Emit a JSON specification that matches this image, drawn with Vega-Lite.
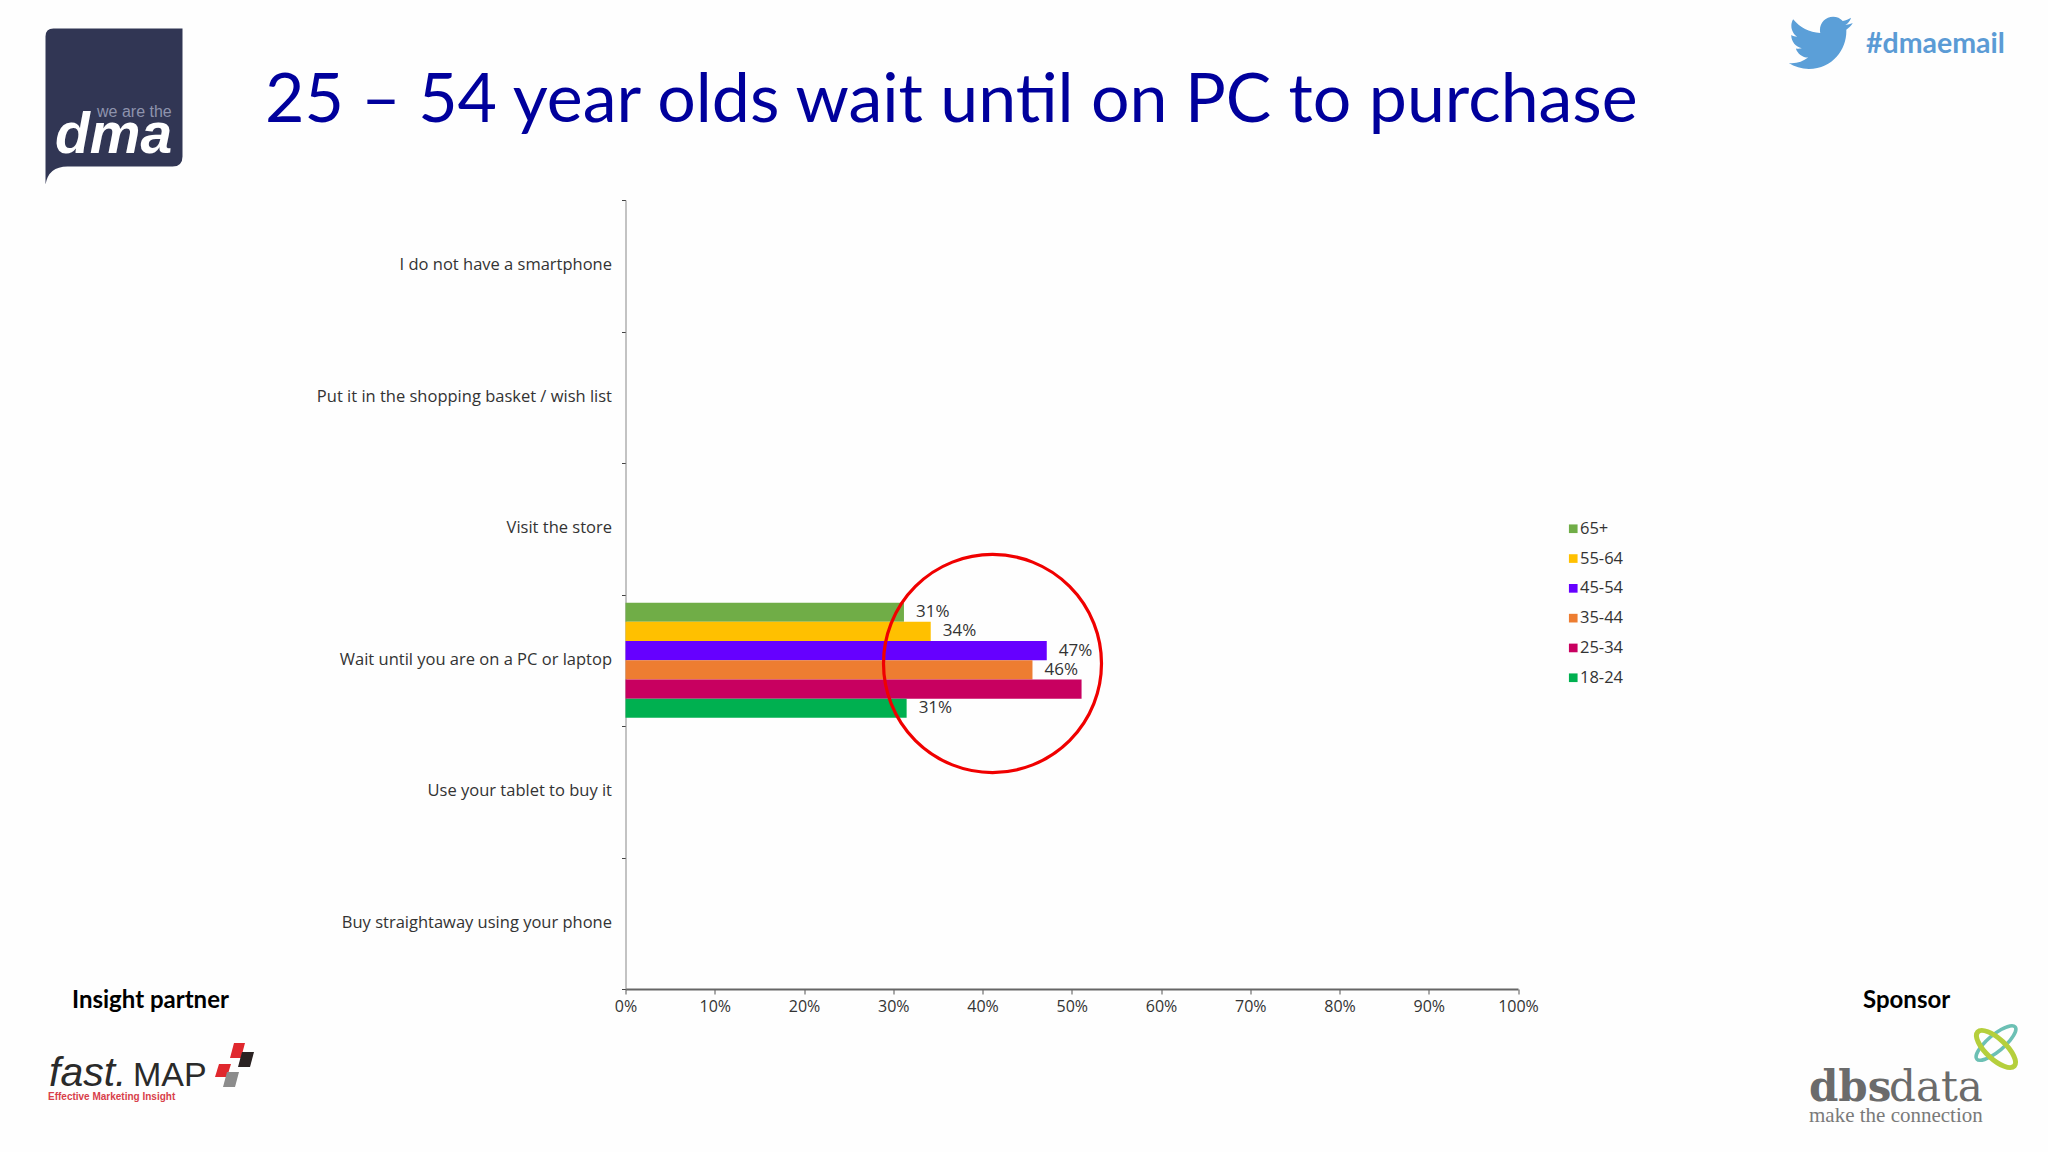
{"$schema":"https://vega.github.io/schema/vega-lite/v6.json","width":892.5,"height":789,"autosize":{"type":"none"},"padding":{"left":625.5,"top":200,"right":530,"bottom":163},"background":"#fefefe","config":{"view":{"stroke":null}},"resolve":{"scale":{"x":"independent","y":"independent"},"axis":{"x":"independent","y":"independent"}},"layer":[{"data":{"values":[{"option":"Wait until you are on a PC or laptop","age":"65+","value":31.2,"label":"31%"},{"option":"Wait until you are on a PC or laptop","age":"55-64","value":34.2,"label":"34%"},{"option":"Wait until you are on a PC or laptop","age":"45-54","value":47.2,"label":"47%"},{"option":"Wait until you are on a PC or laptop","age":"35-44","value":45.6,"label":"46%"},{"option":"Wait until you are on a PC or laptop","age":"25-34","value":51.1,"label":""},{"option":"Wait until you are on a PC or laptop","age":"18-24","value":31.5,"label":"31%"}]},"encoding":{"x":{"field":"value","type":"quantitative","title":null,"scale":{"domain":[0,100],"nice":false},"axis":{"values":[0,10,20,30,40,50,60,70,80,90,100],"labelExpr":"datum.value + '%'","labelFlush":false,"labelOverlap":false,"grid":false,"domainColor":"#666666","domainWidth":2,"tickColor":"#555555","tickSize":5,"labelFont":"Open Sans","labelFontSize":16,"labelColor":"#333333","labelPadding":4}},"y":{"field":"option","type":"nominal","title":null,"sort":null,"scale":{"domain":["I do not have a smartphone","Put it in the shopping basket / wish list","Visit the store","Wait until you are on a PC or laptop","Use your tablet to buy it","Buy straightaway using your phone"],"paddingInner":0,"paddingOuter":0},"axis":{"tickBand":"extent","domainColor":"#888888","tickColor":"#444444","tickSize":4,"labelFont":"Open Sans","labelFontSize":16.5,"labelColor":"#333333","labelPadding":10,"labelLimit":400,"labelOffset":-1,"grid":false}},"yOffset":{"field":"age","type":"nominal","sort":["65+","55-64","45-54","35-44","25-34","18-24"],"scale":{"paddingInner":0,"paddingOuter":0.425}}},"layer":[{"mark":{"type":"bar"},"encoding":{"color":{"field":"age","type":"nominal","title":null,"scale":{"domain":["65+","55-64","45-54","35-44","25-34","18-24"],"range":["#70ad47","#ffc000","#6600ff","#ed7d31","#c80060","#00b050"]},"legend":{"orient":"none","legendX":939.5,"legendY":320.5,"symbolType":"square","symbolSize":75,"symbolStrokeWidth":0,"labelFont":"Open Sans","labelFontSize":16.5,"labelColor":"#333333","labelOffset":-1.5,"rowPadding":12.8,"symbolOpacity":1}}}},{"mark":{"type":"text","align":"left","baseline":"middle","dx":12,"font":"Open Sans","fontSize":17,"fill":"#333333"},"encoding":{"text":{"field":"label"}}}]},{"layer":[{"data":{"values":[{"label":"ring"}]},"mark":{"type":"point","shape":"circle","size":47524,"filled":false,"stroke":"#f00000","strokeWidth":3.2,"opacity":1},"encoding":{"x":{"datum":992.5,"type":"quantitative","scale":{"domain":[0,2048],"range":[-625.5,1422.5],"nice":false,"zero":false},"axis":null},"y":{"datum":663.5,"type":"quantitative","scale":{"domain":[0,1152],"range":[-200,952],"nice":false,"zero":false},"axis":null}}},{"data":{"values":[{"label":"25 – 54 year olds wait until on PC to purchase"}]},"mark":{"type":"text","align":"left","baseline":"alphabetic","font":"Lato","fontSize":68,"fill":"#00009c"},"encoding":{"x":{"datum":265,"type":"quantitative","scale":{"domain":[0,2048],"range":[-625.5,1422.5],"nice":false,"zero":false},"axis":null},"y":{"datum":122,"type":"quantitative","scale":{"domain":[0,1152],"range":[-200,952],"nice":false,"zero":false},"axis":null},"text":{"field":"label"}}},{"data":{"values":[{"label":"#dmaemail"}]},"mark":{"type":"text","align":"left","baseline":"alphabetic","font":"Lato","fontWeight":"bold","fontSize":28.5,"fill":"#5b9bd5"},"encoding":{"x":{"datum":1866,"type":"quantitative","scale":{"domain":[0,2048],"range":[-625.5,1422.5],"nice":false,"zero":false},"axis":null},"y":{"datum":53,"type":"quantitative","scale":{"domain":[0,1152],"range":[-200,952],"nice":false,"zero":false},"axis":null},"text":{"field":"label"}}},{"data":{"values":[{"label":"Insight partner"}]},"mark":{"type":"text","align":"left","baseline":"alphabetic","font":"Lato","fontWeight":"bold","fontSize":24,"fill":"#000000"},"encoding":{"x":{"datum":72,"type":"quantitative","scale":{"domain":[0,2048],"range":[-625.5,1422.5],"nice":false,"zero":false},"axis":null},"y":{"datum":1008,"type":"quantitative","scale":{"domain":[0,1152],"range":[-200,952],"nice":false,"zero":false},"axis":null},"text":{"field":"label"}}},{"data":{"values":[{"label":"Sponsor"}]},"mark":{"type":"text","align":"left","baseline":"alphabetic","font":"Lato","fontWeight":"bold","fontSize":24,"fill":"#000000"},"encoding":{"x":{"datum":1863,"type":"quantitative","scale":{"domain":[0,2048],"range":[-625.5,1422.5],"nice":false,"zero":false},"axis":null},"y":{"datum":1008,"type":"quantitative","scale":{"domain":[0,1152],"range":[-200,952],"nice":false,"zero":false},"axis":null},"text":{"field":"label"}}},{"data":{"values":[{"label":"bird"}]},"mark":{"type":"point","filled":true,"opacity":1,"size":32,"fill":"#5b9fd8","strokeWidth":0,"shape":"M23.643 4.937c-.835.37-1.732.62-2.675.727.962-.576 1.7-1.49 2.048-2.578-.9.534-1.897.922-2.958 1.13-.85-.904-2.06-1.47-3.4-1.47-2.572 0-4.658 2.086-4.658 4.66 0 .364.042.718.12 1.06-3.873-.195-7.304-2.05-9.602-4.868-.4.69-.63 1.49-.63 2.342 0 1.616.823 3.043 2.072 3.878-.764-.025-1.482-.234-2.11-.583v.06c0 2.257 1.605 4.14 3.737 4.568-.392.106-.803.162-1.227.162-.3 0-.593-.028-.877-.082.593 1.85 2.313 3.198 4.352 3.234-1.595 1.25-3.604 1.995-5.786 1.995-.376 0-.747-.022-1.112-.065 2.062 1.323 4.51 2.093 7.14 2.093 8.57 0 13.255-7.098 13.255-13.254 0-.2-.005-.402-.014-.602.91-.658 1.7-1.477 2.323-2.41z"},"encoding":{"x":{"datum":1786,"type":"quantitative","scale":{"domain":[0,2048],"range":[-625.5,1422.5],"nice":false,"zero":false},"axis":null},"y":{"datum":9,"type":"quantitative","scale":{"domain":[0,1152],"range":[-200,952],"nice":false,"zero":false},"axis":null}}},{"data":{"values":[{"label":"dma box"}]},"mark":{"type":"point","filled":true,"opacity":1,"size":4,"fill":"#313654","strokeWidth":0,"shape":"M8 0 H137 V128 Q137 138 127 138 H22 Q3 138 0 156 V8 Q0 0 8 0 Z"},"encoding":{"x":{"datum":45.5,"type":"quantitative","scale":{"domain":[0,2048],"range":[-625.5,1422.5],"nice":false,"zero":false},"axis":null},"y":{"datum":28.5,"type":"quantitative","scale":{"domain":[0,1152],"range":[-200,952],"nice":false,"zero":false},"axis":null}}},{"data":{"values":[{"label":"dma"}]},"mark":{"type":"text","align":"left","baseline":"alphabetic","font":"Liberation Sans","fontWeight":"bold","fontStyle":"italic","fontSize":57,"fill":"#ffffff"},"encoding":{"x":{"datum":55,"type":"quantitative","scale":{"domain":[0,2048],"range":[-625.5,1422.5],"nice":false,"zero":false},"axis":null},"y":{"datum":153,"type":"quantitative","scale":{"domain":[0,1152],"range":[-200,952],"nice":false,"zero":false},"axis":null},"text":{"field":"label"}}},{"data":{"values":[{"label":"we are the"}]},"mark":{"type":"text","align":"left","baseline":"alphabetic","font":"Liberation Sans","fontSize":16,"fill":"#8e93ad"},"encoding":{"x":{"datum":97,"type":"quantitative","scale":{"domain":[0,2048],"range":[-625.5,1422.5],"nice":false,"zero":false},"axis":null},"y":{"datum":117,"type":"quantitative","scale":{"domain":[0,1152],"range":[-200,952],"nice":false,"zero":false},"axis":null},"text":{"field":"label"}}},{"data":{"values":[{"label":"fast."}]},"mark":{"type":"text","align":"left","baseline":"alphabetic","font":"Liberation Sans","fontStyle":"italic","fontSize":41,"fill":"#2a2a2a"},"encoding":{"x":{"datum":49,"type":"quantitative","scale":{"domain":[0,2048],"range":[-625.5,1422.5],"nice":false,"zero":false},"axis":null},"y":{"datum":1086,"type":"quantitative","scale":{"domain":[0,1152],"range":[-200,952],"nice":false,"zero":false},"axis":null},"text":{"field":"label"}}},{"data":{"values":[{"label":"MAP"}]},"mark":{"type":"text","align":"left","baseline":"alphabetic","font":"Liberation Sans","fontSize":34,"fill":"#2a2a2a"},"encoding":{"x":{"datum":133,"type":"quantitative","scale":{"domain":[0,2048],"range":[-625.5,1422.5],"nice":false,"zero":false},"axis":null},"y":{"datum":1086,"type":"quantitative","scale":{"domain":[0,1152],"range":[-200,952],"nice":false,"zero":false},"axis":null},"text":{"field":"label"}}},{"data":{"values":[{"label":"Effective Marketing Insight"}]},"mark":{"type":"text","align":"left","baseline":"alphabetic","font":"Liberation Sans","fontWeight":"bold","fontSize":10,"fill":"#d8404a"},"encoding":{"x":{"datum":48,"type":"quantitative","scale":{"domain":[0,2048],"range":[-625.5,1422.5],"nice":false,"zero":false},"axis":null},"y":{"datum":1100,"type":"quantitative","scale":{"domain":[0,1152],"range":[-200,952],"nice":false,"zero":false},"axis":null},"text":{"field":"label"}}},{"data":{"values":[{"label":"red tile"}]},"mark":{"type":"point","filled":true,"opacity":1,"size":4,"fill":"#e0282e","strokeWidth":0,"shape":"M4 0 H15 L11 15 H0 Z"},"encoding":{"x":{"datum":230,"type":"quantitative","scale":{"domain":[0,2048],"range":[-625.5,1422.5],"nice":false,"zero":false},"axis":null},"y":{"datum":1043,"type":"quantitative","scale":{"domain":[0,1152],"range":[-200,952],"nice":false,"zero":false},"axis":null}}},{"data":{"values":[{"label":"black tile"}]},"mark":{"type":"point","filled":true,"opacity":1,"size":4,"fill":"#2a2222","strokeWidth":0,"shape":"M4 0 H16 L12 15 H0 Z"},"encoding":{"x":{"datum":238,"type":"quantitative","scale":{"domain":[0,2048],"range":[-625.5,1422.5],"nice":false,"zero":false},"axis":null},"y":{"datum":1052,"type":"quantitative","scale":{"domain":[0,1152],"range":[-200,952],"nice":false,"zero":false},"axis":null}}},{"data":{"values":[{"label":"red tile"}]},"mark":{"type":"point","filled":true,"opacity":1,"size":4,"fill":"#e0282e","strokeWidth":0,"shape":"M4 0 H16 L12 13 H0 Z"},"encoding":{"x":{"datum":215,"type":"quantitative","scale":{"domain":[0,2048],"range":[-625.5,1422.5],"nice":false,"zero":false},"axis":null},"y":{"datum":1064,"type":"quantitative","scale":{"domain":[0,1152],"range":[-200,952],"nice":false,"zero":false},"axis":null}}},{"data":{"values":[{"label":"grey tile"}]},"mark":{"type":"point","filled":true,"opacity":1,"size":4,"fill":"#8c8c8c","strokeWidth":0,"shape":"M4 0 H16 L12 15 H0 Z"},"encoding":{"x":{"datum":223,"type":"quantitative","scale":{"domain":[0,2048],"range":[-625.5,1422.5],"nice":false,"zero":false},"axis":null},"y":{"datum":1072,"type":"quantitative","scale":{"domain":[0,1152],"range":[-200,952],"nice":false,"zero":false},"axis":null}}},{"data":{"values":[{"label":"dbs"}]},"mark":{"type":"text","align":"left","baseline":"alphabetic","font":"DejaVu Serif","fontWeight":"bold","fontSize":42,"fill":"#6b6b6b"},"encoding":{"x":{"datum":1809,"type":"quantitative","scale":{"domain":[0,2048],"range":[-625.5,1422.5],"nice":false,"zero":false},"axis":null},"y":{"datum":1101,"type":"quantitative","scale":{"domain":[0,1152],"range":[-200,952],"nice":false,"zero":false},"axis":null},"text":{"field":"label"}}},{"data":{"values":[{"label":"data"}]},"mark":{"type":"text","align":"left","baseline":"alphabetic","font":"DejaVu Serif","fontSize":42,"fill":"#6b6b6b"},"encoding":{"x":{"datum":1889,"type":"quantitative","scale":{"domain":[0,2048],"range":[-625.5,1422.5],"nice":false,"zero":false},"axis":null},"y":{"datum":1101,"type":"quantitative","scale":{"domain":[0,1152],"range":[-200,952],"nice":false,"zero":false},"axis":null},"text":{"field":"label"}}},{"data":{"values":[{"label":"make the connection"}]},"mark":{"type":"text","align":"left","baseline":"alphabetic","font":"Liberation Serif","fontSize":21,"fill":"#7a7a7a"},"encoding":{"x":{"datum":1809,"type":"quantitative","scale":{"domain":[0,2048],"range":[-625.5,1422.5],"nice":false,"zero":false},"axis":null},"y":{"datum":1122,"type":"quantitative","scale":{"domain":[0,1152],"range":[-200,952],"nice":false,"zero":false},"axis":null},"text":{"field":"label"}}},{"data":{"values":[{"label":"teal ring"}]},"mark":{"type":"point","filled":false,"opacity":1,"size":4,"stroke":"#6cc0b4","strokeWidth":3.5,"shape":"M-19.15 16.07 A25 8 -40 1 1 19.15 -16.07 A25 8 -40 1 1 -19.15 16.07 Z"},"encoding":{"x":{"datum":1996,"type":"quantitative","scale":{"domain":[0,2048],"range":[-625.5,1422.5],"nice":false,"zero":false},"axis":null},"y":{"datum":1043,"type":"quantitative","scale":{"domain":[0,1152],"range":[-200,952],"nice":false,"zero":false},"axis":null}}},{"data":{"values":[{"label":"lime ring"}]},"mark":{"type":"point","filled":false,"opacity":1,"size":4,"stroke":"#b5cf3c","strokeWidth":5,"shape":"M-18.3 -17.05 A25 10 43 1 1 18.3 17.05 A25 10 43 1 1 -18.3 -17.05 Z"},"encoding":{"x":{"datum":1996,"type":"quantitative","scale":{"domain":[0,2048],"range":[-625.5,1422.5],"nice":false,"zero":false},"axis":null},"y":{"datum":1049,"type":"quantitative","scale":{"domain":[0,1152],"range":[-200,952],"nice":false,"zero":false},"axis":null}}}]}]}
